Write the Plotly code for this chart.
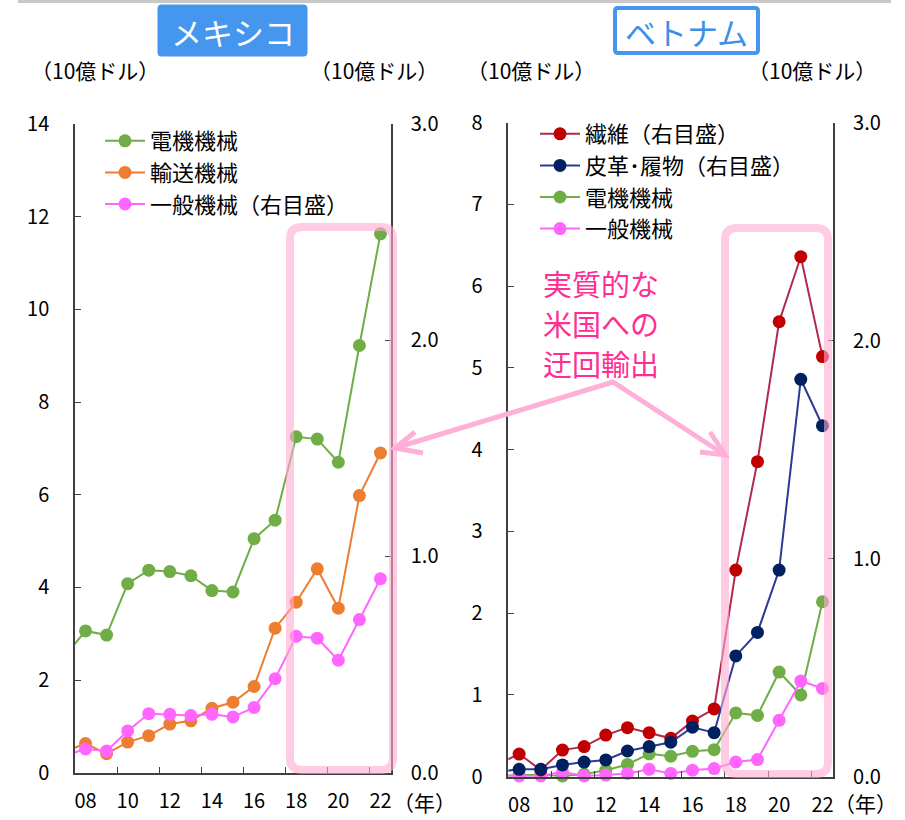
import plotly.graph_objects as go

W, H = 905, 820
FONT = "Noto Sans CJK JP"

# ---------------- data ----------------
years = list(range(2007, 2023))
year_ticks = list(range(2008, 2023, 2))
year_ticktext = ["08", "10", "12", "14", "16", "18", "20", "22"]

# Mexico (10億ドル)
mx_elec = [2.51, 3.06, 2.97, 4.08, 4.37, 4.34, 4.25, 3.93, 3.90, 5.05, 5.45, 7.25, 7.20, 6.70, 9.22, 11.63]
mx_trans = [0.45, 0.63, 0.41, 0.66, 0.80, 1.05, 1.12, 1.39, 1.52, 1.86, 3.12, 3.68, 4.40, 3.55, 5.98, 6.90]
mx_gen = [0.078, 0.110, 0.100, 0.193, 0.273, 0.270, 0.264, 0.270, 0.258, 0.302, 0.435, 0.631, 0.622, 0.520, 0.708, 0.897]  # right axis

# Vietnam (10億ドル)
vn_textile = [0.056, 0.104, 0.031, 0.122, 0.138, 0.191, 0.225, 0.202, 0.176, 0.255, 0.311, 0.948, 1.445, 2.087, 2.385, 1.927]  # right axis
vn_leather = [0.022, 0.034, 0.034, 0.054, 0.067, 0.077, 0.118, 0.138, 0.158, 0.227, 0.202, 0.554, 0.662, 0.948, 1.823, 1.610]  # right axis
vn_elec = [0.01, 0.02, 0.02, 0.01, 0.03, 0.08, 0.15, 0.28, 0.25, 0.31, 0.33, 0.78, 0.75, 1.28, 1.00, 2.14]
vn_gen = [0.01, 0.01, 0.01, 0.06, 0.01, 0.02, 0.04, 0.09, 0.04, 0.08, 0.10, 0.18, 0.21, 0.69, 1.17, 1.08]

GREEN = "#70AD47"
ORANGE = "#ED7D31"
MAGENTA = "#FF66FF"
RED_M, RED_L = "#C00000", "#B02A4C"
NAVY_M, NAVY_L = "#002060", "#2B3A94"
AXIS = "#404040"
PINK_BOX = "rgba(255,170,210,0.6)"
ARROW = "#FFB0D8"


def px(x):
    return x / W


def py(y):
    return 1 - y / H


fig = go.Figure()


def add(x, y, name, color, lcolor, xa, ya, legend):
    fig.add_trace(go.Scatter(
        x=x, y=y, name=name, mode="lines+markers",
        line=dict(color=lcolor, width=2),
        marker=dict(color=color, size=13),
        xaxis=xa, yaxis=ya, legend=legend, cliponaxis=False,
    ))


add(years, mx_elec, "電機機械", GREEN, GREEN, "x", "y", "legend")
add(years, mx_trans, "輸送機械", ORANGE, ORANGE, "x", "y", "legend")
add(years, mx_gen, "一般機械（右目盛）", MAGENTA, MAGENTA, "x", "y2", "legend")

add(years, vn_textile, "繊維（右目盛）", RED_M, RED_L, "x2", "y4", "legend2")
add(years, vn_leather, "皮革･履物（右目盛）", NAVY_M, NAVY_L, "x2", "y4", "legend2")
add(years, vn_elec, "電機機械", GREEN, GREEN, "x2", "y3", "legend2")
add(years, vn_gen, "一般機械", MAGENTA, MAGENTA, "x2", "y3", "legend2")

tickfont = dict(family=FONT, size=20, color="#000")
common_y = dict(showgrid=False, zeroline=False, showline=True, linecolor=AXIS, linewidth=1.5,
                ticks="inside", ticklen=6, tickcolor=AXIS, tickfont=tickfont, automargin=False)
minor_vals = [v + 0.5 for v in range(2009, 2022, 2)]
common_x = dict(range=[2007.5, 2022.5], showgrid=False, zeroline=False, showline=True,
                linecolor=AXIS, linewidth=1.5, tickvals=year_ticks, ticktext=year_ticktext,
                ticks="", tickfont=tickfont, ticklabelstandoff=10, automargin=False,
                minor=dict(tickvals=minor_vals, ticks="inside", ticklen=6, tickcolor=AXIS, showgrid=False))

fig.update_layout(
    width=W, height=H, margin=dict(l=0, r=0, t=0, b=0, autoexpand=False),
    paper_bgcolor="white", plot_bgcolor="white",
    font=dict(family=FONT, color="#000"),
    xaxis=dict(domain=[px(75), px(391)], anchor="y", **common_x),
    yaxis=dict(domain=[py(772.7), py(124)], range=[0, 14], dtick=2, anchor="x",
               ticklabelstandoff=20, **common_y),
    yaxis2=dict(overlaying="y", side="right", anchor="x", range=[0, 3], tickvals=[0, 1, 2, 3],
                tickformat=".1f", ticklabelstandoff=14, **common_y),
    xaxis2=dict(domain=[px(508.3), px(833.3)], anchor="y3", **common_x),
    yaxis3=dict(domain=[py(776.7), py(122.7)], range=[0, 8], dtick=1, anchor="x2",
                ticklabelstandoff=20, **common_y),
    yaxis4=dict(overlaying="y3", side="right", anchor="x2", range=[0, 3], tickvals=[0, 1, 2, 3],
                tickformat=".1f", ticklabelstandoff=14, **common_y),
    legend=dict(x=px(100), y=py(120), xanchor="left", yanchor="top", bgcolor="rgba(0,0,0,0)",
                font=dict(family=FONT, size=22), itemwidth=40, tracegroupgap=0),
    legend2=dict(x=px(535), y=py(113), xanchor="left", yanchor="top", bgcolor="rgba(0,0,0,0)",
                 font=dict(family=FONT, size=22), itemwidth=40, tracegroupgap=0),
    showlegend=True,
)

shapes = []


def rrect(x0, y0, x1, y1, r):
    p = (f"M {px(x0 + r)},{py(y0)} L {px(x1 - r)},{py(y0)} Q {px(x1)},{py(y0)} {px(x1)},{py(y0 + r)} "
         f"L {px(x1)},{py(y1 - r)} Q {px(x1)},{py(y1)} {px(x1 - r)},{py(y1)} "
         f"L {px(x0 + r)},{py(y1)} Q {px(x0)},{py(y1)} {px(x0)},{py(y1 - r)} "
         f"L {px(x0)},{py(y0 + r)} Q {px(x0)},{py(y0)} {px(x0 + r)},{py(y0)} Z")
    return p


# top gray rule
shapes.append(dict(type="line", xref="paper", yref="paper", x0=px(18), x1=px(891), y0=py(1.5), y1=py(1.5),
                   line=dict(color="#C8C8C8", width=3)))
# title boxes
shapes.append(dict(type="path", xref="paper", yref="paper", path=rrect(158, 5, 307, 56, 3),
                   fillcolor="#4596EE", line=dict(color="#4596EE", width=1)))
shapes.append(dict(type="path", xref="paper", yref="paper", path=rrect(615, 8, 758, 53, 3),
                   fillcolor="white", line=dict(color="#4596EE", width=4)))
# highlight boxes
shapes.append(dict(type="path", xref="paper", yref="paper", path=rrect(290, 227, 393, 770, 12),
                   line=dict(color=PINK_BOX, width=8), layer="above"))
shapes.append(dict(type="path", xref="paper", yref="paper", path=rrect(725, 228, 828, 774, 12),
                   line=dict(color=PINK_BOX, width=8), layer="above"))
# arrows
arrow_paths = [
    [(395, 448), (613, 382), (725, 455)],
    [(415, 432), (395, 448), (423, 453)],
    [(710, 432), (725, 455), (700, 452)],
]
for pts in arrow_paths:
    p = "M " + " L ".join(f"{px(a)},{py(b)}" for a, b in pts)
    shapes.append(dict(type="path", xref="paper", yref="paper", path=p,
                       line=dict(color=ARROW, width=5), layer="above"))
fig.update_layout(shapes=shapes)

ann = []


def text(x, y, s, size=18, color="#000", xanchor="center", align="center"):
    ann.append(dict(xref="paper", yref="paper", x=px(x), y=py(y), text=s, showarrow=False,
                    xanchor=xanchor, yanchor="middle", align=align,
                    font=dict(family=FONT, size=size, color=color)))


text(232.5, 31, "メキシコ", size=31, color="white")
text(686.5, 31, "ベトナム", size=31, color="#3D8FE8")
for cx in (95, 374, 531, 812):
    text(cx, 70, "（10億ドル）", size=21)
text(424, 802, "（年）", size=21)
text(865, 803, "（年）", size=21)
for i, line in enumerate(["実質的な", "米国への", "迂回輸出"]):
    text(541, 283 + i * 40, line, size=29, color="#FF2E93", xanchor="left", align="left")
fig.update_layout(annotations=ann)

fig.write_html("out.html")
